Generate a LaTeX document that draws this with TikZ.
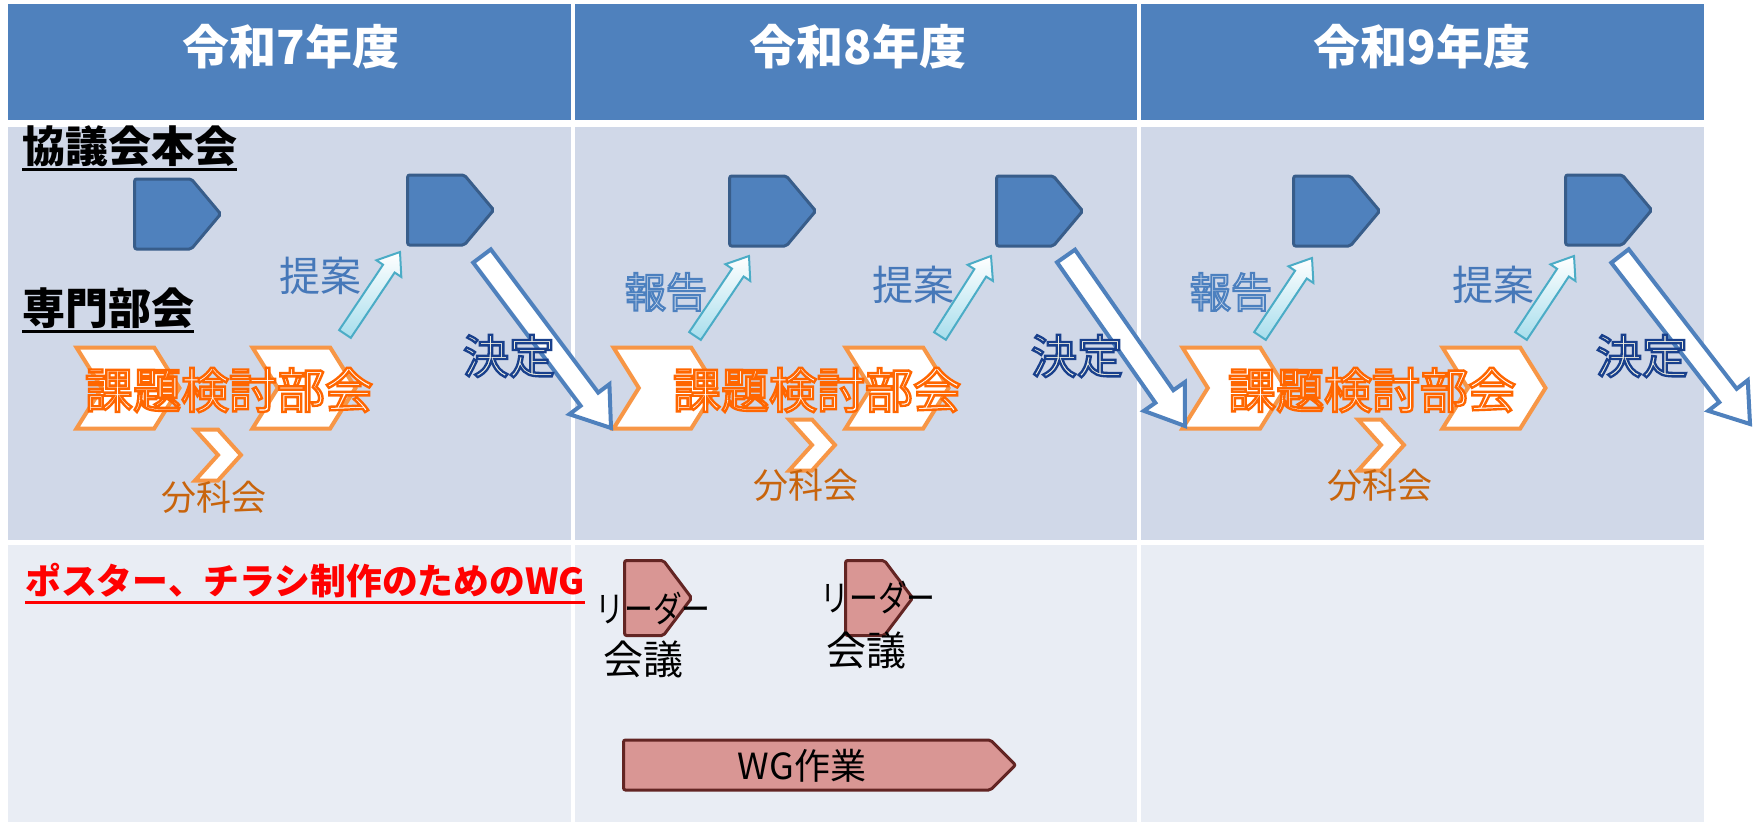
\documentclass[tikz,border=0pt]{standalone}
\usepackage{fontspec}
\setmainfont{Noto Sans CJK JP}
\newfontfamily\outlinefont[RawFeature={embolden=5}]{Noto Sans CJK JP}
\usetikzlibrary{shapes.symbols,calc}

\definecolor{hdrblue}{RGB}{79,129,189}
\definecolor{rowA}{RGB}{208,216,232}
\definecolor{rowB}{RGB}{233,237,244}
\definecolor{plateline}{RGB}{56,93,138}
\definecolor{chevorange}{RGB}{247,150,70}
\definecolor{kadai}{RGB}{255,102,0}
\definecolor{bunka}{RGB}{200,100,12}
\definecolor{kettei}{RGB}{25,65,140}
\definecolor{cream}{RGB}{240,240,225}
\definecolor{teian}{RGB}{70,120,185}
\definecolor{teianfill}{RGB}{190,234,246}
\definecolor{teianline}{RGB}{75,172,198}
\definecolor{wgfill}{RGB}{217,150,148}
\definecolor{wgline}{RGB}{99,37,35}

\newcommand{\fsz}[1]{\fontsize{#1}{#1}\selectfont}
% block arrow from tail #2 to head #3
\newcommand{\blockarrow}[6]{%
  \coordinate (neck) at ($(#3)!#6!(#2)$);
  \draw[#1] ($(#2)!#4!90:(#3)$) -- ($(neck)!#4!-90:(#2)$) -- ($(neck)!#5!-90:(#2)$)
    -- (#3) -- ($(neck)!#5!90:(#2)$) -- ($(neck)!#4!90:(#2)$) -- ($(#2)!#4!-90:(#3)$) -- cycle;
}
% outlined text: fill colour #1, stroke rgb #2
\newcommand{\outlined}[3]{{\outlinefont\color{#1}\special{pdf:literal direct #2 RG}#3}}

\tikzset{
  hdr/.style={text=white, font=\fsz{47}\bfseries},
  rowlabel/.style={anchor=west, font=\fsz{43}\bfseries, inner sep=0pt},
  plate/.style={shape=signal, signal to=east, signal pointer angle=100, fill=hdrblue,
    draw=plateline, line width=3pt, rounded corners=2pt, minimum width=86pt,
    minimum height=70pt, inner sep=0pt},
  chev/.style={shape=signal, signal from=west, signal to=east, signal pointer angle=116,
    fill=white, draw=chevorange, line width=4pt, minimum width=103pt,
    minimum height=81pt, inner sep=0pt},
  smallchev/.style={chev, minimum width=39pt, minimum height=51pt, signal pointer angle=96},
  kadaitext/.style={font=\fsz{48}},
  bunkatext/.style={text=bunka, font=\fsz{35}},
  ketteitext/.style={font=\fsz{46}},
  teiantext/.style={text=teian, font=\fsz{41}},
  ketteiarrow/.style={fill=white, draw=hdrblue, line width=4pt},
  teianarrow/.style={top color=white, bottom color=teianfill!80!teianline, draw=teianline, line width=2pt},
  pinkplate/.style={shape=signal, signal to=east, signal pointer angle=106, fill=wgfill,
    draw=wgline, line width=3pt, rounded corners=2pt, minimum width=67pt,
    minimum height=75pt, inner sep=0pt},
  wgtext/.style={text=black, font=\fsz{36}},
}

\begin{document}
\begin{tikzpicture}[x=1pt,y=-1pt]
  \useasboundingbox (0,0) rectangle (1758,822);
  \fill[white] (0,0) rectangle (1758,822);

  % table
  \foreach \xa/\xb in {8/571,575/1137,1141/1704} {
    \fill[hdrblue] (\xa,4) rectangle (\xb,120);
    \fill[rowA] (\xa,127) rectangle (\xb,540);
    \fill[rowB] (\xa,545) rectangle (\xb,822);
  }
  \node[hdr] (h7) at (291,47) {令和7年度};
  \node[hdr] (h8) at (858,47) {令和8年度};
  \node[hdr] (h9) at (1422,47) {令和9年度};

  \node[rowlabel] (kyogi) at (22,146) {協議会本会};
  \node[rowlabel] (senmon) at (22,308) {専門部会};
  \draw[line width=2.5pt] ([yshift=-3pt]kyogi.south west) -- ([yshift=-3pt]kyogi.south east);
  \draw[line width=2.5pt] ([yshift=-3pt]senmon.south west) -- ([yshift=-3pt]senmon.south east);

  % 協議会本会
  \node[plate] (p1) at (163,214) {};
  \node[plate] (p2) at (436,210) {};
  \node[plate] (p3) at (758,211) {};
  \node[plate] (p4) at (1025,211) {};
  \node[plate] (p5) at (1322,211) {};
  \node[plate] (p6) at (1594,210) {};

  % 専門部会
  \node[chev] (c1) at (128,388) {};
  \node[chev] (c2) at (304,388) {};
  \node[chev] (c3) at (665,388) {};
  \node[chev] (c4) at (897,388) {};
  \node[chev] (c5) at (1234,388) {};
  \node[chev] (c6) at (1494,388) {};
  \node[smallchev] (s1) at (218,455) {};
  \node[smallchev] (s2) at (812,445) {};
  \node[smallchev] (s3) at (1381,445) {};

  \node[kadaitext] (kadai1) at (229,390) {\outlined{white}{1 0.4 0}{課題検討部会}};
  \node[kadaitext] (kadai2) at (817,390) {\outlined{white}{1 0.4 0}{課題検討部会}};
  \node[kadaitext] (kadai3) at (1372,390) {\outlined{white}{1 0.4 0}{課題検討部会}};
  \node[bunkatext] (bunka1) at (214,497) {分科会};
  \node[bunkatext] (bunka2) at (806,485) {分科会};
  \node[bunkatext] (bunka3) at (1380,485) {分科会};

  % 提案・報告
  \coordinate (t1a) at (345,334); \coordinate (t1b) at (400,252);
  \coordinate (r2a) at (695,336); \coordinate (r2b) at (749,256);
  \coordinate (t2a) at (940,336); \coordinate (t2b) at (991,256);
  \coordinate (r3a) at (1260,336); \coordinate (r3b) at (1312,258);
  \coordinate (t3a) at (1521,336); \coordinate (t3b) at (1574,256);
  \blockarrow{teianarrow}{t1a}{t1b}{7pt}{15pt}{20pt}
  \blockarrow{teianarrow}{r2a}{r2b}{7pt}{15pt}{20pt}
  \blockarrow{teianarrow}{t2a}{t2b}{7pt}{15pt}{20pt}
  \blockarrow{teianarrow}{r3a}{r3b}{7pt}{15pt}{20pt}
  \blockarrow{teianarrow}{t3a}{t3b}{7pt}{15pt}{20pt}
  \node[teiantext] (teian1) at (320,276) {提案};
  \node[teiantext] (houkoku2) at (666,292) {\outlined{white!75!teian}{0.3 0.5 0.75}{報告}};
  \node[teiantext] (teian2) at (913,285) {提案};
  \node[teiantext] (houkoku3) at (1231,292) {\outlined{white!75!teian}{0.3 0.5 0.75}{報告}};
  \node[teiantext] (teian3) at (1493,285) {提案};

  % 決定
  \coordinate (k1a) at (482,256); \coordinate (k1b) at (611,428);
  \coordinate (k2a) at (1066,256); \coordinate (k2b) at (1185,426);
  \coordinate (k3a) at (1620,256); \coordinate (k3b) at (1750,424);
  \blockarrow{ketteiarrow}{k1a}{k1b}{11pt}{25pt}{36pt}
  \blockarrow{ketteiarrow}{k2a}{k2b}{11pt}{25pt}{36pt}
  \blockarrow{ketteiarrow}{k3a}{k3b}{11pt}{25pt}{36pt}
  \node[ketteitext] (kettei1) at (509,356) {\outlined{cream}{0.1 0.25 0.55}{決定}};
  \node[ketteitext] (kettei2) at (1077,356) {\outlined{cream}{0.1 0.25 0.55}{決定}};
  \node[ketteitext] (kettei3) at (1642,356) {\outlined{cream}{0.1 0.25 0.55}{決定}};

  % WG
  \node[anchor=west, text=red, font=\fsz{35.8}\bfseries, inner sep=0pt] (wgtitle) at (25,581)
    {ポスター、チラシ制作のためのWG};
  \draw[red, line width=2.5pt] ([yshift=-4pt]wgtitle.south west) -- ([yshift=-4pt]wgtitle.south east);
  \node[pinkplate] (q1) at (644,598) {};
  \node[pinkplate] (q2) at (865,598) {};
  \node[wgtext, xscale=0.8] (leader1) at (653,608) {リーダー};
  \node[wgtext, font=\fsz{40}] (kaigi1) at (643,659) {会議};
  \node[wgtext, xscale=0.8] (leader2) at (878,597) {リーダー};
  \node[wgtext, font=\fsz{40}] (kaigi2) at (866,650) {会議};
  \node[pinkplate, minimum width=392pt, minimum height=50pt, signal pointer angle=90] (wgbar) at (807,765) {};
  \node[wgtext] (wgwork) at (802,766) {WG作業};
\end{tikzpicture}
\end{document}
